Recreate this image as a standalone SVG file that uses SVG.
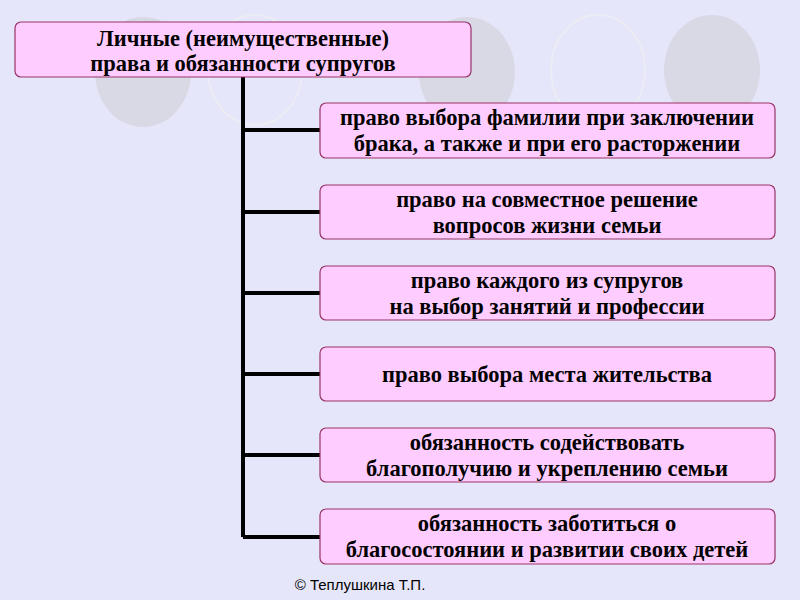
<svg xmlns="http://www.w3.org/2000/svg" width="800" height="600" viewBox="0 0 800 600">
<style>
.b{fill:#ffccff;stroke:#993366;stroke-width:1.2}
.t{font-family:"Liberation Serif",serif;font-weight:bold;font-size:22.5px;fill:#000;text-anchor:middle}
.c{fill:#d9d9e6}
.o{fill:none;stroke:#ececf5;stroke-width:2}
.l{stroke:#000;stroke-width:4;fill:none}
</style>
<rect width="800" height="600" fill="#e6e6fa"/>
<ellipse class="c" cx="143" cy="72" rx="48" ry="55"/>
<ellipse class="o" cx="255" cy="70" rx="47" ry="55"/>
<ellipse class="c" cx="467" cy="72" rx="48" ry="55"/>
<ellipse class="o" cx="598" cy="70" rx="47" ry="55"/>
<ellipse class="c" cx="712" cy="70" rx="48" ry="55"/>
<g id="connectors">
<path class="l" d="M243 77V537M243 130H320M243 212H320M243 293H320M243 374H320M243 455H320M243 537H320"/>
</g>
<g id="root"><rect class="b" x="15" y="22" width="456" height="55" rx="6"/><text class="t" x="243" y="46">Личные (неимущественные)</text><text class="t" x="243" y="71">права и обязанности супругов</text></g>
<g id="n1"><rect class="b" x="320" y="103" width="455" height="55" rx="6"/><text class="t" x="547" y="125">право выбора фамилии при заключении</text><text class="t" x="547" y="151">брака, а также и при его расторжении</text></g>
<g id="n2"><rect class="b" x="320" y="185" width="455" height="54" rx="6"/><text class="t" x="547" y="207">право на совместное решение</text><text class="t" x="547" y="233">вопросов жизни семьи</text></g>
<g id="n3"><rect class="b" x="320" y="266" width="455" height="54" rx="6"/><text class="t" x="547" y="288">право каждого из супругов</text><text class="t" x="547" y="314">на выбор занятий и профессии</text></g>
<g id="n4"><rect class="b" x="320" y="347" width="455" height="54" rx="6"/><text class="t" x="547" y="382">право выбора места жительства</text></g>
<g id="n5"><rect class="b" x="320" y="428" width="455" height="54" rx="6"/><text class="t" x="547" y="450">обязанность содействовать</text><text class="t" x="547" y="476">благополучию и укреплению семьи</text></g>
<g id="n6"><rect class="b" x="320" y="509" width="455" height="55" rx="6"/><text class="t" x="547" y="531">обязанность заботиться о</text><text class="t" x="547" y="557">благосостоянии и развитии своих детей</text></g>
<text x="360" y="590" font-family="Liberation Sans, sans-serif" font-size="15" text-anchor="middle">© Теплушкина  Т.П.</text>
</svg>
